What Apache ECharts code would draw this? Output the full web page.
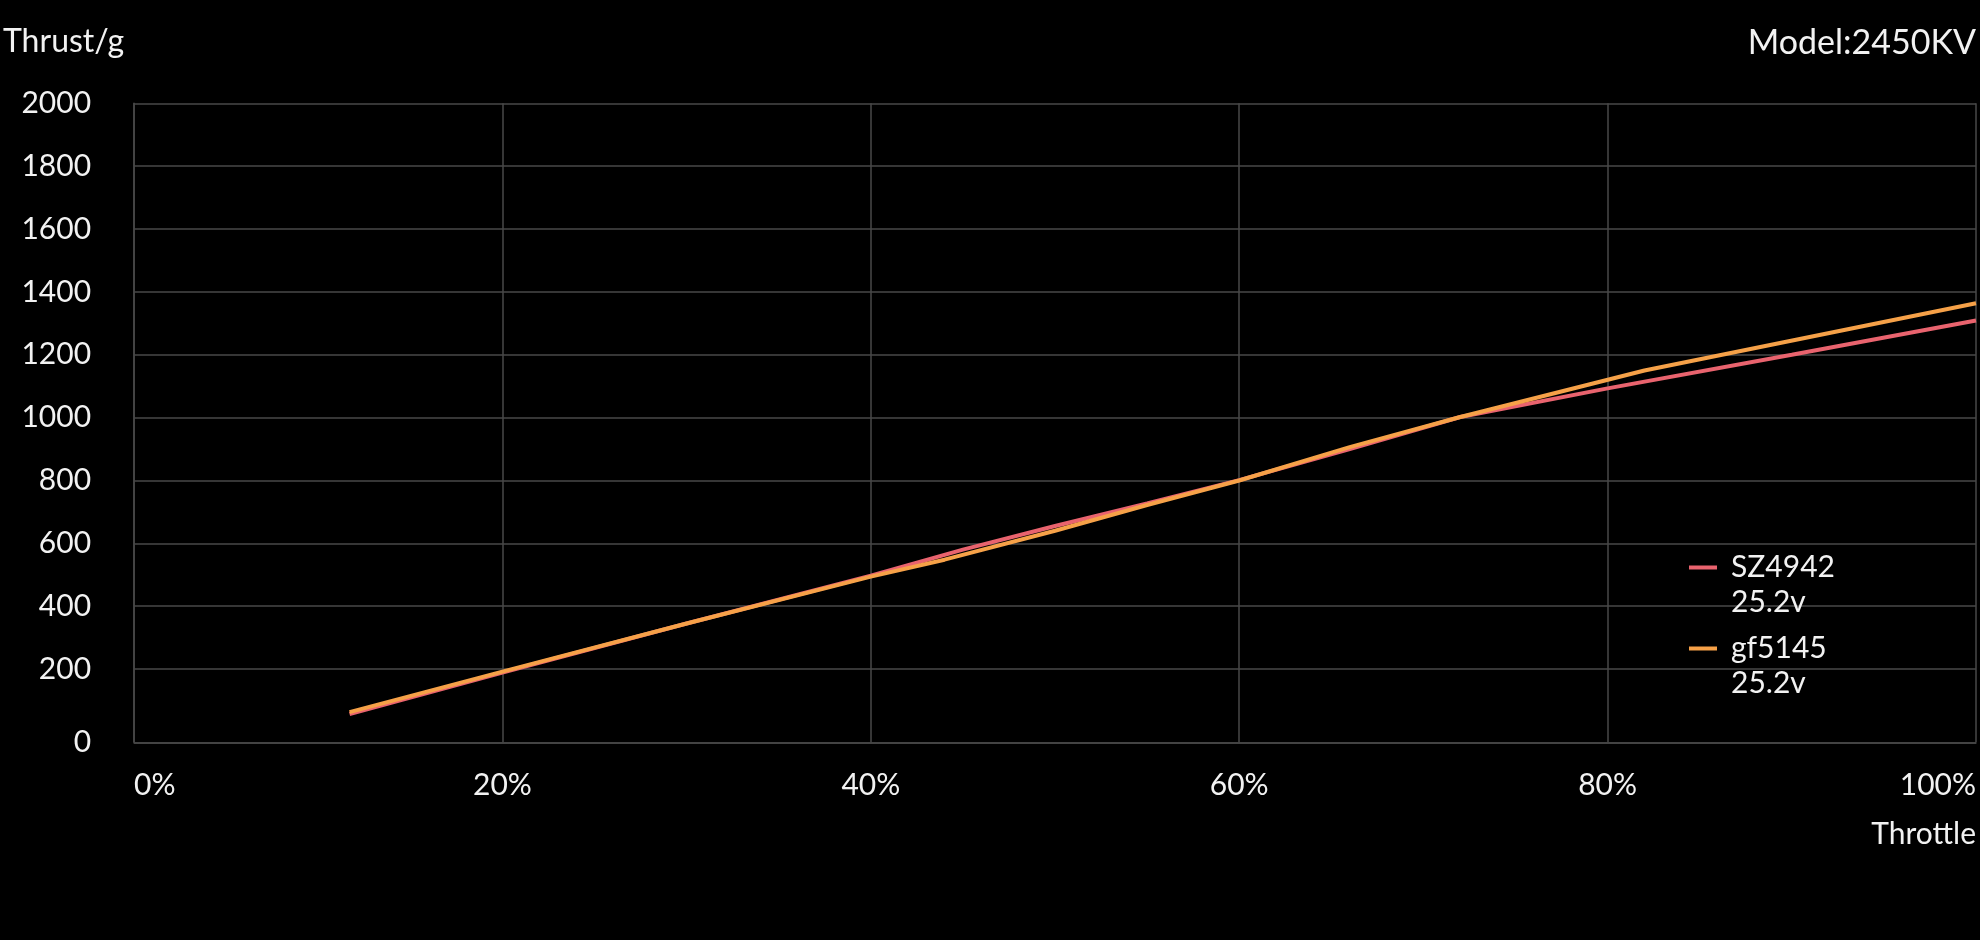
<!DOCTYPE html>
<html>
<head>
<meta charset="utf-8">
<style>
  html, body { margin: 0; padding: 0; background: #000; }
  #chart { width: 1980px; height: 940px; }
</style>
<script src="https://cdn.jsdelivr.net/npm/echarts@6/dist/echarts.min.js"></script>
</head>
<body>
<div id="chart"></div>
<script>
// ---- data ----
const seriesNames = ['SZ4942\n25.2v', 'gf5145\n25.2v'];
const seriesColors = ['#e9636e', '#f6a148'];
// [throttle %, thrust g]
const sz4942 = [
  [11.7, 57], [20, 189], [30, 345], [40, 497], [45, 580], [50, 655],
  [55, 727], [60, 801], [66, 900], [72, 1002], [80, 1093], [90, 1200], [100, 1309]
];
const gf5145 = [
  [11.7, 63], [20, 192], [30, 345], [40, 494], [44, 548], [50, 640],
  [55, 722], [60, 800], [66, 906], [72, 1002], [82, 1150], [100, 1364]
];
const xTicks = [0, 20, 40, 60, 80, 100];
const yMin = -33, yMax = 2000;
const titleText = 'Model:2450KV';
const xName = 'Throttle';
const yName = 'Thrust/g';

// ---- chart ----
const FONT = 'Lato';
const TXT = '#f2f2f2';
const GRID = '#484848';
const chart = echarts.init(document.getElementById('chart'));

// split line colours: min tick (under the x axis line) grey, the line at value 0 hidden, rest grey
const ySplitColors = [GRID, 'rgba(0,0,0,0)'];
for (let i = 0; i < 10; i++) ySplitColors.push(GRID);

chart.setOption({
  backgroundColor: '#000',
  animation: false,
  textStyle: { fontFamily: FONT },
  title: {
    text: titleText,
    right: 4,
    top: 26,
    padding: 0,
    textStyle: { color: TXT, fontSize: 34, fontWeight: 'normal', fontFamily: FONT }
  },
  legend: {
    orient: 'vertical',
    left: 1689,
    top: 515,
    padding: 0,
    itemGap: -24,
    icon: 'rect',
    itemWidth: 28,
    itemHeight: 4,
    formatter: name => '\n' + name,
    textStyle: { color: TXT, fontSize: 30, lineHeight: 35, fontFamily: FONT, padding: [0, 0, 0, 9] },
    data: seriesNames
  },
  grid: { left: 133, right: 4, top: 103.3, bottom: 197.7, containLabel: false },
  xAxis: {
    type: 'value',
    min: xTicks[0],
    max: xTicks[xTicks.length - 1],
    interval: 20,
    name: xName,
    nameLocation: 'end',
    nameGap: 0,
    nameMoveOverlap: false,
    nameTextStyle: { color: TXT, fontSize: 30, fontFamily: FONT, align: 'right', verticalAlign: 'top', padding: [77, 0, 0, 0] },
    axisLine: { show: true, onZero: false, lineStyle: { color: GRID, width: 1.5 } },
    axisTick: { show: false },
    splitLine: { show: true, lineStyle: { color: GRID, width: 1.5 } },
    axisLabel: {
      color: TXT, fontSize: 30, fontFamily: FONT, margin: 28,
      alignMinLabel: 'left', alignMaxLabel: 'right',
      formatter: v => v + '%'
    }
  },
  yAxis: {
    type: 'value',
    min: yMin,
    max: yMax,
    splitNumber: 10,
    name: yName,
    nameLocation: 'end',
    nameGap: 62,
    nameMoveOverlap: false,
    nameTextStyle: { color: TXT, fontSize: 32, fontFamily: FONT, align: 'right', verticalAlign: 'middle', padding: [0, 10, 0, 0] },
    axisLine: { show: true, lineStyle: { color: GRID, width: 1.5 } },
    axisTick: { show: false },
    splitLine: { show: true, lineStyle: { color: ySplitColors, width: 1.5 } },
    axisLabel: {
      color: TXT, fontSize: 30, fontFamily: FONT, margin: 43,
      showMinLabel: true, showMaxLabel: true,
      formatter: v => (v < 0 ? '0' : (v === 0 ? '' : String(v)))
    }
  },
  series: [
    {
      name: seriesNames[0], type: 'line', data: sz4942,
      showSymbol: false, symbol: 'none',
      lineStyle: { color: seriesColors[0], width: 4 },
      itemStyle: { color: seriesColors[0] }
    },
    {
      name: seriesNames[1], type: 'line', data: gf5145,
      showSymbol: false, symbol: 'none',
      lineStyle: { color: seriesColors[1], width: 4 },
      itemStyle: { color: seriesColors[1] }
    }
  ]
});
</script>
</body>
</html>
